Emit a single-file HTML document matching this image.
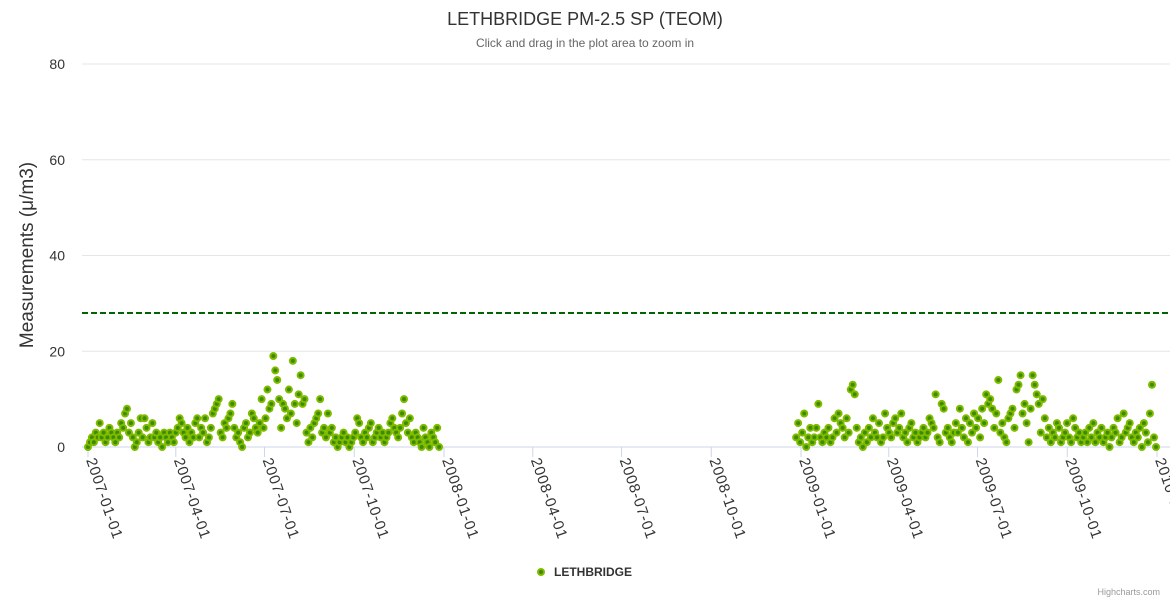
<!DOCTYPE html>
<html><head><meta charset="utf-8"><style>
body{margin:0;background:#fff;font-family:"Liberation Sans",sans-serif}
svg text{font-family:"Liberation Sans",sans-serif}
</style></head><body>
<svg id="c" width="1170" height="600" xmlns="http://www.w3.org/2000/svg">
<text x="585" y="25" text-anchor="middle" font-size="18" fill="#333">LETHBRIDGE PM-2.5 SP (TEOM)</text>
<text x="585" y="47" text-anchor="middle" font-size="12" fill="#666">Click and drag in the plot area to zoom in</text>
<text transform="translate(33,255) rotate(-90)" text-anchor="middle" font-size="19" fill="#333">Measurements (μ/m3)</text>
<g id="grid"></g><g id="xax"></g><g id="pts"></g>
<g>
<circle cx="541" cy="572" r="3" fill="#3c8c00" stroke="#80bb00" stroke-width="2"/>
<text x="554" y="576" font-size="12" font-weight="bold" fill="#333">LETHBRIDGE</text></g>
<text x="1160" y="595" text-anchor="end" font-size="9" fill="#999">Highcharts.com</text>
</svg>
<script>
const yTicks=[0,20,40,60,80];
const xTickLabels=["2007-01-01","2007-04-01","2007-07-01","2007-10-01","2008-01-01","2008-04-01","2008-07-01","2008-10-01","2009-01-01","2009-04-01","2009-07-01","2009-10-01","2010-01-01"];
const threshold=28;
const seg1Start="2007-01-01", seg1End="2007-12-27";
const seg1Values=[0,1,2,1,3,2,5,2,3,1,2,4,3,2,1,3,2,5,4,7,8,3,5,2,0,1,3,6,2,6,4,1,2,5,2,3,1,2,0,3,2,1,3,2,1,3,4,6,5,3,2,4,1,3,2,5,6,2,4,3,6,1,2,4,7,8,9,10,3,2,5,4,6,7,9,4,2,3,1,0,4,5,2,3,7,6,4,3,5,10,4,6,12,8,9,19,16,14,10,4,9,8,6,12,7,18,9,5,11,15,9,10,3,1,4,2,5,6,7,10,3,4,2,7,3,4,1,2,0,1,2,3,1,2,0,1,2,3,6,5,2,1,3,2,4,5,1,2,3,4,2,3,1,2,3,5,6,4,3,2,4,7,10,5,3,6,2,1,3,2,1,0,4,2,1,0,3,2,1,4,0];
const seg2Start="2008-12-27", seg2End="2009-12-31";
const seg2Values=[2,5,1,3,7,0,2,4,1,2,4,9,2,1,3,2,4,1,2,6,3,7,5,4,2,6,3,12,13,11,4,1,2,0,3,1,4,2,6,3,2,5,1,2,7,4,3,2,5,6,3,4,7,2,3,1,4,5,2,3,1,2,3,4,2,3,6,5,4,11,2,1,9,8,3,4,2,1,3,5,3,8,4,2,6,1,5,3,7,4,6,2,8,5,11,9,10,8,4,7,14,3,5,2,1,6,7,8,4,12,13,15,7,9,5,1,8,15,13,11,9,3,10,6,2,4,1,3,2,5,4,1,2,3,5,2,1,6,4,2,3,1,2,3,1,4,2,5,1,3,2,4,1,2,3,0,2,4,3,6,1,2,7,3,4,5,2,1,3,2,4,0,5,3,1,7,13,2,0];
const NS="http://www.w3.org/2000/svg";
const x0=Date.UTC(2007,0,1),x1=Date.UTC(2010,0,1),px0=88,px1=1157;
const xs=t=>px0+(t-x0)/(x1-x0)*(px1-px0);
const ys=v=>447-v*(447-64)/80;
const pd=s=>{const a=s.split('-');return Date.UTC(+a[0],a[1]-1,+a[2]);};
function mk(tag,at,parent){const e=document.createElementNS(NS,tag);for(const k in at)e.setAttribute(k,at[k]);parent.appendChild(e);return e;}
const grid=document.getElementById('grid');
yTicks.forEach(v=>{
 const l=mk('line',{x1:82,x2:1170,y1:ys(v),y2:ys(v),stroke:v?'#e6e6e6':'#ccd6eb'},grid);
 
 
 const t=mk('text',{x:65,y:ys(v)+5,'text-anchor':'end','font-size':14,fill:'#333'},grid);
 t.textContent=v;
 
 
});
const th=mk('line',{x1:82,x2:1170,y1:ys(threshold),y2:ys(threshold),stroke:'#006400','stroke-width':2,'stroke-dasharray':'6,3'},grid);


const xax=document.getElementById('xax');
xTickLabels.forEach(s=>{
 const x=xs(pd(s));
 const tk=mk('line',{x1:x,x2:x,y1:447,y2:457,stroke:'#ccd6eb'},xax);
 
 
 const t=mk('text',{transform:`translate(${x-2},${460}) rotate(71)`,'font-size':15,'letter-spacing':'0.8',fill:'#333'},xax);
 t.textContent=s;
 
 
});
const pts=document.getElementById('pts');
[[seg1Start,seg1End,seg1Values],[seg2Start,seg2End,seg2Values]].forEach(([a,b,vals])=>{
 const ta=pd(a),tb=pd(b),st=(tb-ta)/(vals.length-1);
 vals.forEach((v,i)=>{
  const c=mk('circle',{cx:xs(ta+i*st),cy:ys(v),r:3,fill:'#3c8c00',stroke:'#80bb00','stroke-width':2},pts);
  
  
 });
});
</script>
</body></html>
